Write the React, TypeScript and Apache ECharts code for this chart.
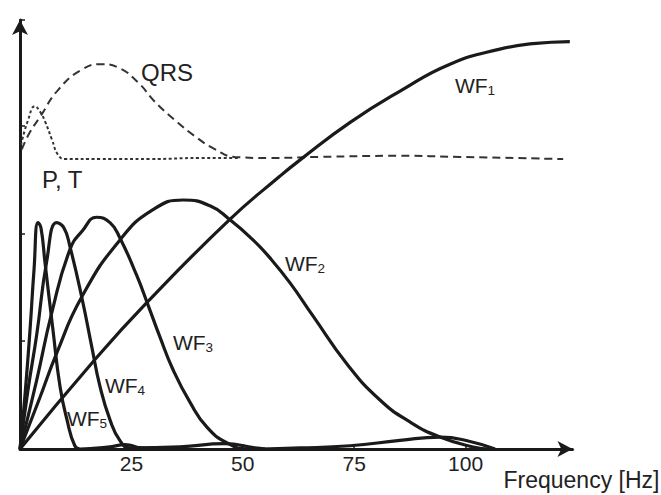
import React, { useEffect, useRef } from 'react';
import * as echarts from 'echarts';

// Frequency [Hz] vs. relative magnitude
const wf1: number[][] = [
  [0, 0], [16.4, 0.81], [28.5, 1.36], [47.1, 2.13], [58.3, 2.53], [62.8, 2.68],
  [74.1, 3.03], [85.3, 3.32], [96.5, 3.57], [107.7, 3.71], [115.1, 3.76], [123.4, 3.78],
];
const wf2: number[][] = [
  [0, 0], [4.49, 0.48], [8.24, 0.89], [13.85, 1.41], [22.44, 1.94], [29.85, 2.22],
  [36.58, 2.31], [42.64, 2.256], [47.13, 2.126], [52.29, 1.940], [56.1, 1.773],
  [60.6, 1.541], [65.75, 1.235], [73.38, 0.789], [80.79, 0.455], [87.52, 0.251],
  [94.25, 0.111], [101.7, 0.019], [105.5, 0],
];
const wf3: number[][] = [
  [0, 0], [3.75, 0.64], [7.11, 1.26], [11.2, 1.85], [14.1, 2.03], [17.2, 2.15],
  [20.2, 2.1], [22.4, 1.96], [26.2, 1.61], [28.7, 1.34], [31.4, 1.04], [34.3, 0.74],
  [38.2, 0.43], [42.0, 0.2], [46.5, 0.056], [50.9, 0], [62.8, 0.01], [74.1, 0.03],
  [85.3, 0.08], [94.3, 0.11], [101, 0.07], [106.6, 0],
];
const wf4: number[][] = [
  [0, 0], [1.8, 0.55], [3.75, 1.06], [5.99, 1.74], [8.24, 2.1], [9.87, 2.05],
  [11.2, 1.88], [13.85, 1.41], [16.1, 0.95], [17.95, 0.58], [20.2, 0.27], [22.4, 0.08],
  [24.7, 0.01], [35.9, 0.02], [46.0, 0.05], [52.7, 0.01], [55, 0],
];
const wf5: number[][] = [
  [0, 0], [1.12, 0.5], [2.24, 1.1], [3.14, 1.66], [4.04, 2.1], [4.71, 2.05],
  [5.61, 1.73], [7.41, 1.1], [8.98, 0.58], [10.55, 0.27], [12.3, 0.03], [13.5, 0],
  [20.2, 0.02], [23.6, 0.04], [26.9, 0.01], [28, 0],
];
const qrs: number[][] = [
  [0.4, 2.78], [2.24, 2.94], [4.49, 3.08], [8.53, 3.33], [13.9, 3.52], [18.4, 3.57],
  [22.0, 3.54], [26.5, 3.4], [30.3, 3.22], [34.8, 3.05], [39.3, 2.9], [43.8, 2.78],
  [48.2, 2.71], [55.7, 2.7], [67.3, 2.71], [85.3, 2.72], [98.7, 2.71], [121.9, 2.69],
];
const pt: number[][] = [
  [0.22, 2.82], [1.8, 3.05], [3.37, 3.18], [4.49, 3.13], [5.61, 3.04], [7.18, 2.87],
  [8.53, 2.73], [10.1, 2.69], [17.95, 2.69], [29.2, 2.69], [40.4, 2.7], [49.4, 2.7],
];
const xTickInterval = 25;
const xName = 'Frequency [Hz]';

const FONT = 'Liberation Sans, Arial, Helvetica, sans-serif';
const INK = '#1a1a1a';

export default function App() {
  const ref = useRef<HTMLDivElement>(null);
  useEffect(() => {
    if (!ref.current) return;
    const chart = echarts.init(ref.current, undefined, { renderer: 'svg' });
    const solid = (name: string, data: number[][]) => ({
      name,
      type: 'line',
      data,
      smooth: 0.5,
      symbol: 'none',
      lineStyle: { color: INK, width: 3.2 },
      z: 3,
    });
    const label = (x: number, y: number, text: string, size = 24) => ({
      type: 'text',
      x,
      y,
      style: { text, fontSize: size, fontFamily: FONT, fill: '#222', textVerticalAlign: 'middle' },
      z: 10,
    });
    const wf = (x: number, y: number, sub: string) => [
      label(x, y, 'WF', 21),
      label(x + 32.5, y + 5, sub, 13.5),
    ];
    chart.setOption({
      animation: false,
      grid: {
        left: 20,
        top: 20,
        width: 552.5,
        bottom: 46,
        containLabel: false,
        outerBoundsMode: 'none',
      },
      xAxis: {
        type: 'value',
        min: 0,
        max: 124,
        interval: xTickInterval,
        splitLine: { show: false },
        axisLine: {
          lineStyle: { color: INK, width: 3 },
          symbol: ['none', 'arrow'],
          symbolSize: [12, 15],
        },
        axisTick: { inside: true, length: 5, lineStyle: { color: INK, width: 1.5 } },
        axisLabel: {
          showMinLabel: false,
          showMaxLabel: false,
          color: '#222',
          fontSize: 21,
          fontFamily: FONT,
          margin: 4,
        },
        name: xName,
        nameLocation: 'end',
        nameGap: -69,
        nameTextStyle: {
          color: '#222',
          fontSize: 23,
          fontFamily: FONT,
          verticalAlign: 'top',
          align: 'left',
          padding: [19, 0, 0, 0],
        },
      },
      yAxis: {
        type: 'value',
        min: 0,
        max: 3.98,
        interval: 1,
        splitLine: { show: false },
        axisLine: {
          lineStyle: { color: INK, width: 3 },
          symbol: ['none', 'arrow'],
          symbolSize: [12, 15],
        },
        axisTick: { inside: true, length: 5, lineStyle: { color: INK, width: 1.5 } },
        axisLabel: { show: false },
      },
      series: [
        solid('WF1', wf1),
        solid('WF2', wf2),
        solid('WF3', wf3),
        solid('WF4', wf4),
        solid('WF5', wf5),
        {
          name: 'QRS',
          type: 'line',
          data: qrs,
          smooth: 0.5,
          symbol: 'none',
          lineStyle: { color: '#333', width: 2, type: [8, 5] },
          z: 2,
        },
        {
          name: 'P, T',
          type: 'line',
          data: pt,
          smooth: 0.5,
          symbol: 'none',
          lineStyle: { color: '#333', width: 2, type: [3, 2.5] },
          z: 2,
        },
      ],
      graphic: [
        label(141, 72, 'QRS'),
        label(42, 179, 'P, T'),
        ...wf(455, 85, '1'),
        ...wf(285, 263, '2'),
        ...wf(173, 342, '3'),
        ...wf(105, 385, '4'),
        ...wf(67, 418, '5'),
      ],
    });
    return () => chart.dispose();
  }, []);
  return (
    <div
      ref={ref}
      style={{ position: 'absolute', left: 0, top: 0, width: 661, height: 495, background: '#fff' }}
    />
  );
}
